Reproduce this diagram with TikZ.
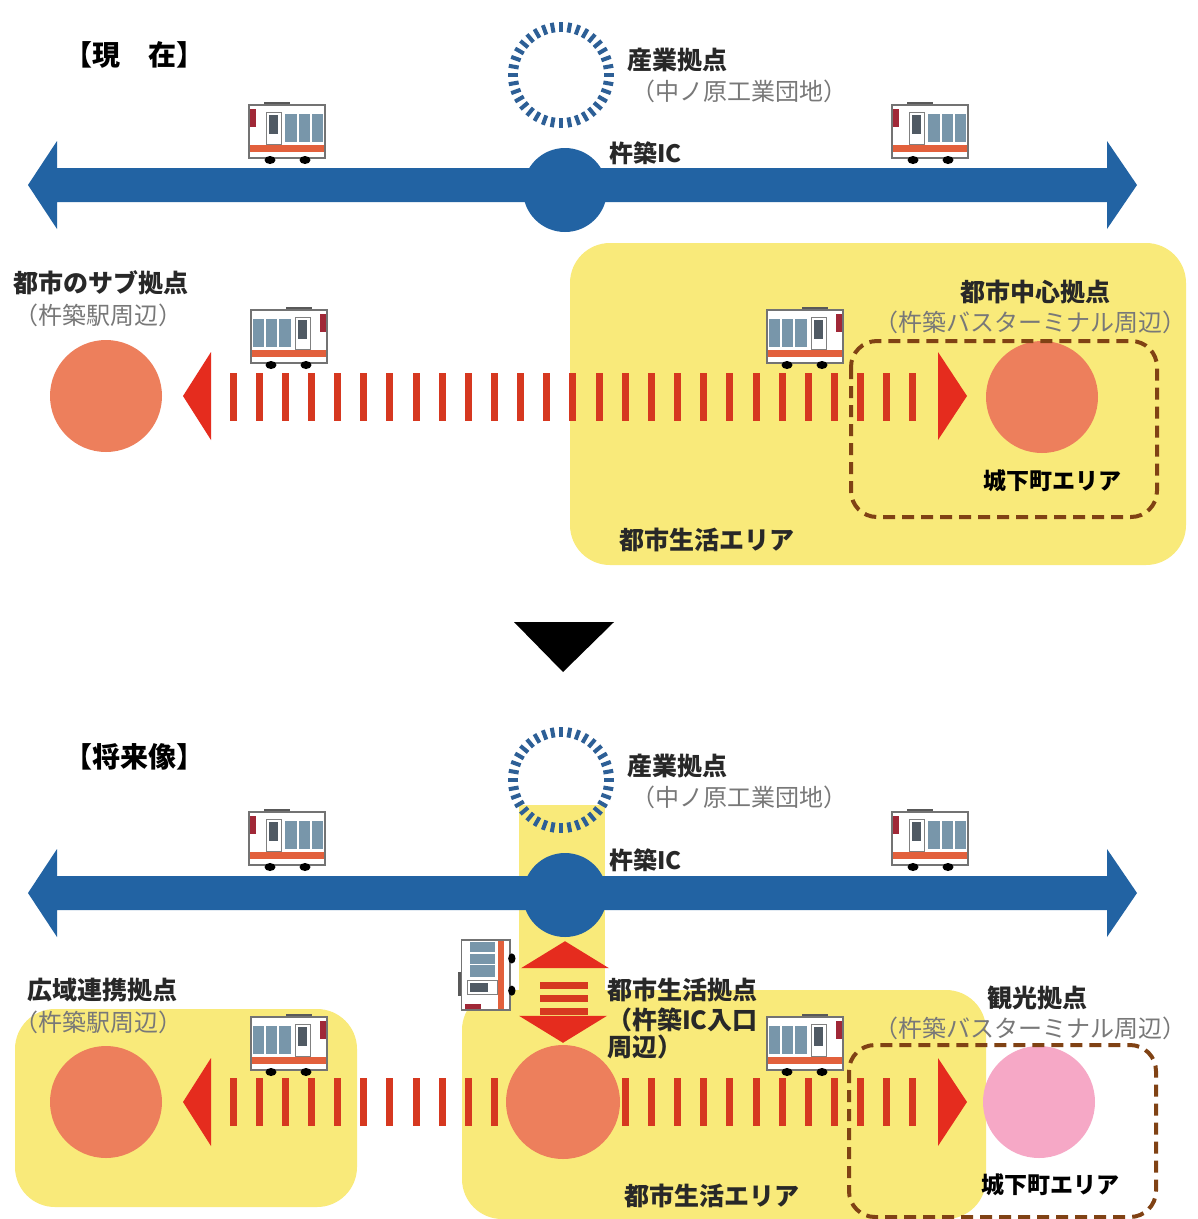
\documentclass[tikz,border=0pt]{standalone}
\usepackage{fontspec}
\setmainfont{Noto Sans CJK JP}
\usetikzlibrary{calc}

\definecolor{roadblue}{RGB}{34,99,163}
\definecolor{ringblue}{RGB}{45,95,150}
\definecolor{hubor}{RGB}{237,127,92}
\definecolor{hubpink}{RGB}{246,168,198}
\definecolor{dashred}{RGB}{214,56,32}
\definecolor{headred}{RGB}{229,44,30}
\definecolor{areayel}{RGB}{249,234,122}
\definecolor{zonebrown}{RGB}{128,66,20}
\definecolor{inkdark}{RGB}{40,40,40}
\definecolor{inkgrey}{RGB}{120,120,120}
\definecolor{winblue}{RGB}{120,150,170}
\definecolor{doorgrey}{RGB}{80,90,100}
\definecolor{panelred}{RGB}{160,40,55}
\definecolor{stripe}{RGB}{226,96,60}

\tikzset{
  lbl/.style={anchor=west, inner sep=0pt, font=\fontsize{25}{27}\selectfont\bfseries, text=inkdark},
  sublbl/.style={anchor=west, inner sep=0pt, font=\fontsize{24}{26}\selectfont, text=inkgrey},
  ttl/.style={anchor=west, inner sep=0pt, font=\fontsize{28}{30}\selectfont\bfseries, text=black},
  zonelbl/.style={inner sep=0pt, font=\fontsize{23}{25}\selectfont\bfseries, text=black},
  hub/.style={circle, inner sep=0pt, minimum size=112pt, fill=hubor},
  icnode/.style={circle, inner sep=0pt, minimum size=84pt, fill=roadblue},
  yelarea/.style={fill=areayel, rounded corners=40pt},
  zonebox/.style={draw=zonebrown, line width=4pt, dash pattern=on 12pt off 7pt, rounded corners=26pt},
  pics/busicon/.style={code={
    \fill[black!65] (-23,-31) rectangle (3,-26);
    \draw[fill=white, draw=black!55, line width=1.2pt] (-38,-28) rectangle (38,25);
    \fill[panelred] (-37,-24) rectangle (-31,-6);
    \draw[fill=white, draw=black!50, line width=0.8pt] (-21,-21) rectangle (-6,11);
    \fill[doorgrey] (-18,-18) rectangle (-9,1);
    \fill[winblue] (-2,-19) rectangle (36,9);
    \draw[white, line width=1.2pt] (11,-19) -- (11,9) (24,-19) -- (24,9);
    \fill[stripe] (-37,12) rectangle (37,19);
    \fill[black] (-17,27) ellipse (5.5pt and 4pt);
    \fill[black] (18,27) ellipse (5.5pt and 4pt);
  }},
  pics/ringmark/.style={code={
    \foreach \a in {0,10,...,350}
      \draw[ringblue, line width=4pt] (\a:43) -- (\a:53);
  }}
}

\begin{document}
\begin{tikzpicture}[x=1pt, y=-1pt]
\path[use as bounding box, fill=white] (0,0) rectangle (1198,1219);

% ===================== present =====================
\node[ttl] (ttlnow) at (64,55) {【現　在】};

% living area
\fill[yelarea] (570,243) rectangle (1186,565);

% industrial base ring
\coordinate (ind1) at (561,75);
\pic at (ind1) {ringmark};
\node[lbl] (indname1) at (627,60) {産業拠点};
\node[sublbl] (indsub1) at (631,91) {（中ノ原工業団地）};

% expressway
\fill[roadblue] (28,185) -- (57,141) -- (57,168) -- (1107,168) -- (1107,141)
  -- (1137,185) -- (1107,229) -- (1107,202) -- (57,202) -- (57,229) -- cycle;
\node[icnode] (ic1) at (565,190) {};
\node[lbl, font=\fontsize{24}{26}\selectfont\bfseries] (icname1) at (609,153) {杵築IC};

% buses on the expressway
\pic at (287,133) {busicon};
\pic at (930,133) {busicon};

% rail link between hubs
\foreach \i in {0,...,26}
  \fill[dashred] ({229.5+26.15*\i},373) rectangle ++(7,48);
\fill[headred] (183,396) -- (211,352) -- (211,440) -- cycle;
\fill[headred] (967,396) -- (938,352) -- (938,440) -- cycle;
\pic[xscale=-1] at (289,338) {busicon};
\pic[xscale=-1] at (805,338) {busicon};

% hubs
\node[hub] (sub1) at (106,396) {};
\node[lbl] (subname1) at (13,283) {都市のサブ拠点};
\node[sublbl] (subsub1) at (14,315) {（杵築駅周辺）};

\node[hub] (cen1) at (1042,397) {};
\node[lbl] (cenname1) at (960,292) {都市中心拠点};
\node[sublbl] (censub1) at (874,322) {（杵築バスターミナル周辺）};

% castle town zone
\draw[zonebox] (851,341) rectangle (1157,517);
\node[zonelbl] (castle1) at (1052,481) {城下町エリア};
\node[lbl] (living1) at (619,540) {都市生活エリア};

% transition marker
\fill[black] (514,622) -- (614,622) -- (563,672) -- cycle;

% ===================== future =====================
\node[ttl] (ttlfut) at (64,757) {【将来像】};

% living areas
\fill[areayel] (519,805) rectangle (605,1000);
\fill[yelarea] (462,990) rectangle (986,1219);
\fill[yelarea] (15,1009) rectangle (357,1207);

% industrial base ring
\coordinate (ind2) at (561,780);
\pic at (ind2) {ringmark};
\node[lbl] (indname2) at (627,766) {産業拠点};
\node[sublbl] (indsub2) at (631,797) {（中ノ原工業団地）};

% expressway
\fill[roadblue] (28,893) -- (57,849) -- (57,876) -- (1107,876) -- (1107,849)
  -- (1137,893) -- (1107,937) -- (1107,910) -- (57,910) -- (57,937) -- cycle;
\node[icnode] (ic2) at (565,895) {};
\node[lbl, font=\fontsize{24}{26}\selectfont\bfseries] (icname2) at (609,860) {杵築IC};

\pic at (287,840) {busicon};
\pic at (930,840) {busicon};

% rail link
\foreach \i in {0,...,26}
  \fill[dashred] ({229.5+26.15*\i},1078) rectangle ++(7,48);
\fill[headred] (183,1102) -- (211,1058) -- (211,1146) -- cycle;
\fill[headred] (967,1102) -- (938,1058) -- (938,1146) -- cycle;
\pic[xscale=-1] at (289,1045) {busicon};
\pic[xscale=-1] at (805,1045) {busicon};

% hubs
\node[hub] (sub2) at (106,1102) {};
\node[lbl] (subname2) at (27,990) {広域連携拠点};
\node[sublbl] (subsub2) at (14,1022) {（杵築駅周辺）};

\node[hub, minimum size=114pt] (liv2) at (563,1102) {};

\node[hub, fill=hubpink] (tour2) at (1039,1102) {};
\node[lbl] (tourname2) at (987,998) {観光拠点};
\node[sublbl] (toursub2) at (874,1028) {（杵築バスターミナル周辺）};

% access link between IC and living hub
\coordinate (lnk) at ($(ic2)!0.5!(liv2)$);
\fill[headred] ($(ic2.south)+(0,4)$) -- ++(44,27) -- ++(-88,0) -- cycle;
\fill[headred] ($(liv2.north)+(0,-2)$) -- ++(44,-27) -- ++(-88,0) -- cycle;
\foreach \dy in {-13,0,13}
  \fill[dashred] ($(lnk)+(-24,\dy-3.5)$) rectangle ++(48,7);
\pic[rotate=90, scale=0.92] at (487,975) {busicon};

\node[lbl] (livname2) at (607,990) {都市生活拠点};
\node[lbl] (livsub2) at (607,1020) {（杵築IC入口};
\node[lbl] (livsub2b) at (607,1047) {周辺）};

% castle town zone
\draw[zonebox] (849,1045) rectangle (1156,1217);
\node[zonelbl] (castle2) at (1050,1185) {城下町エリア};
\node[lbl] (living2) at (624,1196) {都市生活エリア};
\end{tikzpicture}
\end{document}
